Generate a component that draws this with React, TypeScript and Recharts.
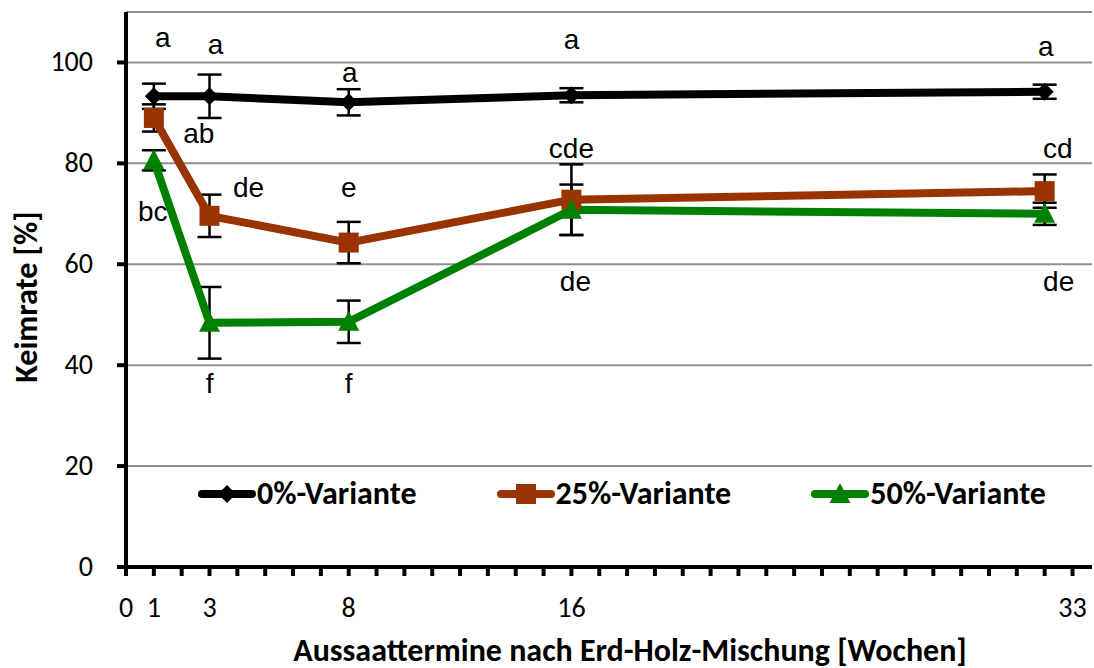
import { LineChart, Line, XAxis, YAxis, CartesianGrid, ErrorBar, LabelList, Legend } from "recharts";

// Keimrate je Aussaattermin (Wochen nach Mischung)
const weeks = [1, 3, 8, 16, 33];
const keim0 = [93.3, 93.3, 92.1, 93.5, 94.2];
const keim25 = [89.0, 69.6, 64.3, 72.8, 74.5];
const keim50 = [80.6, 48.4, 48.6, 70.8, 70.0];
const err0 = [2.5, 4.3, 2.6, 1.4, 1.4];
const err25 = [2.7, 4.2, 4.1, 7.0, 3.3];
const err50 = [2.0, 7.1, 4.2, 5.0, 2.2];
const letters0 = ["a", "a", "a", "a", "a"];
const letters25 = ["ab", "de", "e", "cde", "cd"];
const letters50 = ["bc", "f", "f", "de", "de"];
const seriesNames = ["0%-Variante", "25%-Variante", "50%-Variante"];
const yTicks = [0, 20, 40, 60, 80, 100];
const xTitle = "Aussaattermine nach Erd-Holz-Mischung [Wochen]";
const yTitle = "Keimrate [%]";

const TICK_FONT = "Carlito, 'Open Sans', sans-serif";
const LETTER_FONT = "'Liberation Sans', Arial, sans-serif";

// where each significance letter sits relative to its point (dx, baseline dy)
const LETTER_OFFSETS: Record<string, number[][]> = {
  v0: [[9, -49], [6, -42], [1, -20], [0, -46], [1, -36]],
  v25: [[45, 25], [39, -19], [0, -46], [0, -42], [13, -33]],
  v50: [[-1, 61], [0, 70], [0, 71], [4, 81], [14, 77]],
};

const SERIES = [
  { key: "v0", err: "e0", lab: "l0", name: seriesNames[0], color: "#000000", shape: "diamond" },
  { key: "v25", err: "e25", lab: "l25", name: seriesNames[1], color: "#993300", shape: "square" },
  { key: "v50", err: "e50", lab: "l50", name: seriesNames[2], color: "#008000", shape: "triangle" },
];

const data = weeks.map((w, i) => ({
  week: w,
  v0: keim0[i],
  v25: keim25[i],
  v50: keim50[i],
  e0: err0[i],
  e25: err25[i],
  e50: err50[i],
  l0: letters0[i],
  l25: letters25[i],
  l50: letters50[i],
}));

const lastWeek = weeks[weeks.length - 1];
const xTicks = Array.from({ length: lastWeek + 2 }, (_, i) => i);

// the source chart prints the last label one tick to the right
const xLabel = (v: number) => {
  if (v === 0) return "0";
  if (v === lastWeek + 1) return String(lastWeek);
  if (weeks.includes(v) && v !== lastWeek) return String(v);
  return "";
};

const Marker = ({ shape, cx, cy, color }: any) => {
  if (cx == null || cy == null) return null;
  if (shape === "diamond") {
    return <polygon points={`${cx},${cy - 9} ${cx + 9},${cy} ${cx},${cy + 9} ${cx - 9},${cy}`} fill={color} />;
  }
  if (shape === "square") {
    return <rect x={cx - 10} y={cy - 10} width={20} height={20} fill={color} />;
  }
  return <polygon points={`${cx},${cy - 11} ${cx + 10.5},${cy + 9} ${cx - 10.5},${cy + 9}`} fill={color} />;
};

const XTick = ({ x, y, payload }: any) => {
  const t = xLabel(payload.value);
  if (!t) return <g />;
  return (
    <text x={x} y={y + 39} textAnchor="middle" fontFamily={TICK_FONT} fontSize={28} fill="#000">
      {t}
    </text>
  );
};

const YTick = ({ x, y, payload }: any) => (
  <text x={x - 22} y={y + 9} textAnchor="end" fontFamily={TICK_FONT} fontSize={28} fill="#000">
    {payload.value}
  </text>
);

// axis titles ignore the props recharts passes in
const XTitle = () => (
  <text x={630} y={661} textAnchor="middle" fontFamily={TICK_FONT} fontWeight={700} fontSize={32} fill="#000">
    {xTitle}
  </text>
);

const YTitle = () => (
  <text
    transform="translate(37, 297) rotate(-90)"
    textAnchor="middle"
    fontFamily={TICK_FONT}
    fontWeight={700}
    fontSize={32}
    fill="#000"
  >
    {yTitle}
  </text>
);

const letterRenderer = (key: string) => (props: any) => {
  const { x, y, value, index } = props;
  const [dx, dy] = LETTER_OFFSETS[key][index];
  return (
    <text key={index} x={x + dx} y={y + dy} textAnchor="middle" fontFamily={LETTER_FONT} fontSize={28} fill="#000">
      {value}
    </text>
  );
};

const LegendContent = () => (
  <div style={{ display: "flex", alignItems: "center", paddingLeft: 198, gap: 80, height: 36 }}>
    {SERIES.map((s) => (
      <div key={s.key} style={{ display: "flex", alignItems: "center" }}>
        <svg width={58} height={30}>
          <line x1={4} y1={15} x2={54} y2={15} stroke={s.color} strokeWidth={8} strokeLinecap="round" />
          <Marker shape={s.shape} cx={29} cy={15} color={s.color} />
        </svg>
        <span style={{ fontFamily: TICK_FONT, fontWeight: 700, fontSize: 32, lineHeight: "36px", color: "#000", marginLeft: 1 }}>
          {s.name}
        </span>
      </div>
    ))}
  </div>
);

export default function App() {
  return (
    <div style={{ position: "absolute", left: 0, top: 0, width: 1094, height: 668, background: "#fff" }}>
      <LineChart width={1094} height={668} data={data} margin={{ top: 12, right: 2, bottom: 0, left: 0 }}>
        <CartesianGrid vertical={false} stroke="#8f8f8f" strokeWidth={2} />
        <XAxis
          type="number"
          dataKey="week"
          domain={[0, 34.7]}
          ticks={xTicks}
          interval={0}
          height={101}
          tickSize={9}
          axisLine={{ stroke: "#000", strokeWidth: 4 }}
          tickLine={{ stroke: "#000", strokeWidth: 4 }}
          tick={<XTick />}
          label={<XTitle />}
        />
        <YAxis
          type="number"
          domain={[0, 110]}
          ticks={yTicks}
          interval={0}
          width={126}
          tickSize={9}
          axisLine={{ stroke: "#000", strokeWidth: 4 }}
          tickLine={{ stroke: "#000", strokeWidth: 4 }}
          tick={<YTick />}
          label={<YTitle />}
        />
        <Legend
          layout="horizontal"
          verticalAlign="middle"
          align="center"
          content={<LegendContent />}
          wrapperStyle={{ top: 476, left: 0, width: 1094, height: 36 }}
        />
        {SERIES.map((s) => (
          <Line
            key={s.key}
            dataKey={s.key}
            name={s.name}
            stroke={s.color}
            strokeWidth={8}
            isAnimationActive={false}
            dot={(p: any) => <Marker key={p.index} shape={s.shape} cx={p.cx} cy={p.cy} color={s.color} />}
            activeDot={false}
          >
            <ErrorBar dataKey={s.err} direction="y" width={12} stroke="#000" strokeWidth={2.5} />
            <LabelList dataKey={s.lab} content={letterRenderer(s.key)} />
          </Line>
        ))}
      </LineChart>
    </div>
  );
}
